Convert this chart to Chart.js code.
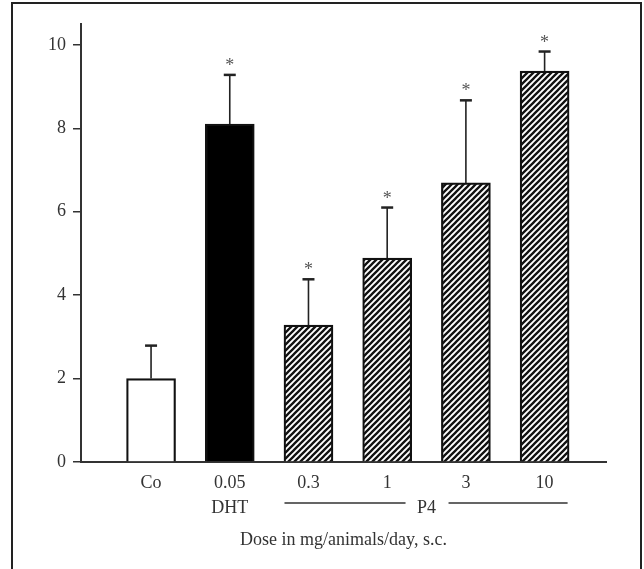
<!DOCTYPE html>
<html>
<head>
<meta charset="utf-8">
<script src="https://cdn.jsdelivr.net/npm/chart.js@4/dist/chart.umd.min.js"></script>
<style>
    html, body { margin: 0; padding: 0; background: #fff; overflow: hidden; }
    #wrap { position: relative; width: 644px; height: 569px; }
    #frame { position: absolute; left: 11px; top: 2px; width: 627px; height: 600px;
             border: 2px solid #222; border-bottom: none; pointer-events: none; }
    canvas { position: absolute; left: 0; top: 0; }
</style>
</head>
<body>
<div id="wrap">
    <canvas id="chart" width="644" height="569"></canvas>
    <div id="frame"></div>
</div>
<script>
// values
const labels = ['Co', '0.05', '0.3', '1', '3', '10'];
const means = [2.0, 8.1, 3.28, 4.89, 6.69, 9.37];
const errs = [0.79, 1.18, 1.1, 1.21, 1.98, 0.47];
const marks = ['', '*', '*', '*', '*', '*'];
const yTicks = [0, 2, 4, 6, 8, 10];
const groupDHT = 'DHT';
const groupP4 = 'P4';
const xTitle = 'Dose in mg/animals/day, s.c.';

const FONT = '"Liberation Serif", "DejaVu Serif", serif';
const INK = '#222';

function hatch() {
    const c = document.createElement('canvas');
    c.width = 6; c.height = 6;
    const g = c.getContext('2d');
    g.fillStyle = '#fff';
    g.fillRect(0, 0, 6, 6);
    g.strokeStyle = '#111';
    g.lineWidth = 2.3;
    g.beginPath();
    g.moveTo(0, 6); g.lineTo(6, 0);
    g.moveTo(-3, 3); g.lineTo(3, -3);
    g.moveTo(3, 9); g.lineTo(9, 3);
    g.stroke();
    return g.createPattern(c, 'repeat');
}
const stripes = hatch();
const fills = ['#fff', '#000', stripes, stripes, stripes, stripes];

// error bars, asterisks and the group labels under the axis
const extras = {
    id: 'extras',
    afterDatasetsDraw(chart) {
        const ctx = chart.ctx;
        const xs = chart.scales.x, ys = chart.scales.y;
        ctx.save();
        ctx.strokeStyle = INK;
        means.forEach((m, i) => {
            const x = xs.getPixelForValue(i + 1);
            const y0 = ys.getPixelForValue(m);
            const y1 = ys.getPixelForValue(m + errs[i]);
            ctx.lineWidth = 1.6;
            ctx.beginPath();
            ctx.moveTo(x, y0);
            ctx.lineTo(x, y1);
            ctx.stroke();
            ctx.lineWidth = 2.5;
            ctx.beginPath();
            ctx.moveTo(x - 6, y1);
            ctx.lineTo(x + 6, y1);
            ctx.stroke();
            if (marks[i]) {
                ctx.fillStyle = '#555';
                ctx.font = '18px ' + FONT;
                ctx.textAlign = 'center';
                ctx.textBaseline = 'alphabetic';
                ctx.fillText(marks[i], x, y1 - 4);
            }
        });

        ctx.fillStyle = '#333';
        ctx.font = '18px ' + FONT;
        ctx.textAlign = 'center';
        ctx.textBaseline = 'middle';
        const rowY = 508;
        ctx.fillText(groupDHT, xs.getPixelForValue(2), rowY);
        const p4x = (xs.getPixelForValue(4) + xs.getPixelForValue(5)) / 2;
        ctx.fillText(groupP4, p4x, rowY);
        ctx.lineWidth = 1.5;
        ctx.strokeStyle = '#333';
        ctx.beginPath();
        ctx.moveTo(xs.getPixelForValue(3) - 24, rowY - 5);
        ctx.lineTo(p4x - 21, rowY - 5);
        ctx.moveTo(p4x + 22, rowY - 5);
        ctx.lineTo(xs.getPixelForValue(6) + 23, rowY - 5);
        ctx.stroke();

        ctx.fillText(xTitle, (chart.chartArea.left + chart.chartArea.right) / 2, 540);
        ctx.restore();
    }
};

let chart = new Chart(document.getElementById('chart'), {
    type: 'bar',
    data: {
        datasets: [{
            data: means.map((m, i) => ({x: i + 1, y: m})),
            backgroundColor: fills,
            borderColor: '#111',
            borderWidth: 2.2,
            barThickness: 49,
        }]
    },
    options: {
        responsive: false,
        animation: false,
        layout: {padding: {left: 0, top: 24, right: 38, bottom: 0}},
        plugins: {legend: {display: false}, tooltip: {enabled: false}},
        scales: {
            x: {
                type: 'linear',
                offset: false,
                min: 0.11,
                max: 6.78,
                afterBuildTicks: (s) => { s.ticks = labels.map((_, i) => ({value: i + 1})); },
                afterFit: (s) => { s.height = 107; },
                ticks: {
                    callback: (v) => labels[v - 1],
                    color: '#333',
                    font: {family: FONT, size: 18},
                    padding: 10,
                    maxRotation: 0,
                    autoSkip: false,
                },
                grid: {drawOnChartArea: false, drawTicks: false, offset: false},
                border: {color: '#333', width: 2},
            },
            y: {
                min: 0,
                max: 10.5,
                afterBuildTicks: (s) => { s.ticks = yTicks.map(v => ({value: v})); },
                afterFit: (s) => { s.width = 81; },
                ticks: {
                    color: '#333',
                    font: {family: FONT, size: 18},
                    padding: 7,
                },
                grid: {drawOnChartArea: false, drawTicks: true, tickLength: 8, color: '#333', lineWidth: 1.5},
                border: {color: '#333', width: 2},
            }
        }
    },
    plugins: [extras]
});
</script>
</body>
</html>
